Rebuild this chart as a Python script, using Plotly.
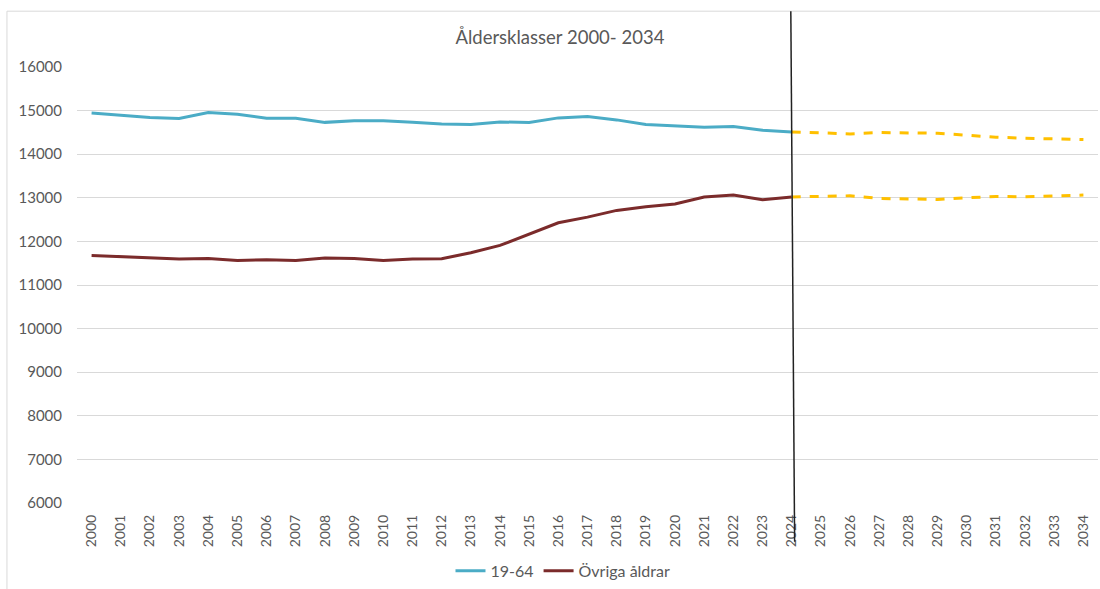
import plotly.graph_objects as go

years = [str(y) for y in range(2000, 2035)]
hist_years = years[:25]   # 2000-2024
proj_years = years[24:]   # 2024-2034

age_19_64 = [14947, 14894, 14840, 14817, 14954, 14917, 14825, 14825, 14730, 14765,
             14765, 14733, 14695, 14680, 14740, 14725, 14833, 14862, 14787, 14680,
             14649, 14619, 14634, 14550, 14512]
age_19_64_proj = [14512, 14489, 14466, 14496, 14489, 14481, 14436, 14390, 14367, 14351, 14335]

ovriga = [11679, 11649, 11610, 11595, 11610, 11564, 11580, 11564, 11620, 11610,
          11564, 11595, 11603, 11740, 11908, 12160, 12428, 12557, 12711, 12796,
          12856, 13016, 13062, 12955, 13020]
ovriga_proj = [13020, 13030, 13046, 12985, 12970, 12962, 13000, 13030, 13023, 13039, 13062]

blue = "#4BACC6"
darkred = "#7B2B2B"
gold = "#FFC000"
grey_text = "#595959"
font_family = "Lato, Carlito, 'Liberation Sans', sans-serif"

fig = go.Figure()
fig.add_trace(go.Scatter(x=hist_years, y=age_19_64, mode="lines", name="19-64",
                         line=dict(color=blue, width=3)))
fig.add_trace(go.Scatter(x=hist_years, y=ovriga, mode="lines", name="Övriga åldrar",
                         line=dict(color=darkred, width=3)))
fig.add_trace(go.Scatter(x=proj_years, y=age_19_64_proj, mode="lines", showlegend=False,
                         line=dict(color=gold, width=3, dash="dash")))
fig.add_trace(go.Scatter(x=proj_years, y=ovriga_proj, mode="lines", showlegend=False,
                         line=dict(color=gold, width=3, dash="dash")))

# chart border
fig.add_shape(type="rect", xref="paper", yref="paper",
              x0=-0.0686, x1=1.02, y0=-0.25, y1=1.128,
              line=dict(color="#d9d9d9", width=1), layer="below")
# vertical separator at 2024
fig.add_shape(type="line", xref="x", yref="paper",
              x0=23.97, x1=24.1, y0=1.128, y1=-0.089,
              line=dict(color="#222222", width=1.5))

fig.update_layout(
    width=1100, height=589,
    margin=dict(l=77, r=2, t=67, b=85),
    paper_bgcolor="white", plot_bgcolor="white",
    font=dict(family=font_family, color=grey_text, size=14),
    title=dict(text="Åldersklasser 2000- 2034", x=0.509, xanchor="center",
               xref="container", y=1 - 38 / 589, yref="container", yanchor="middle",
               font=dict(size=18.5, color=grey_text, family=font_family)),
    xaxis=dict(type="category", tickangle=-90, showgrid=False, ticks="",
               tickfont=dict(size=14, color=grey_text), showline=False,
               range=[-0.5, 34.5], automargin=False, ticklabelstandoff=8),
    yaxis=dict(range=[6000, 16000], dtick=1000, tickformat="d", showgrid=True,
               gridcolor="#d9d9d9", gridwidth=1, zeroline=False, ticks="",
               showline=False, tickfont=dict(size=15, color=grey_text),
               ticklabelstandoff=14, automargin=False),
    legend=dict(orientation="h", x=0.476, xanchor="center", y=-0.192, yanchor="bottom",
                font=dict(size=16, color=grey_text), itemwidth=30,
                bgcolor="rgba(0,0,0,0)"),
    showlegend=True,
)

fig.write_html("out.html", config={"displayModeBar": False},
               post_script="document.body.style.margin='0';document.body.style.overflow='hidden';")
